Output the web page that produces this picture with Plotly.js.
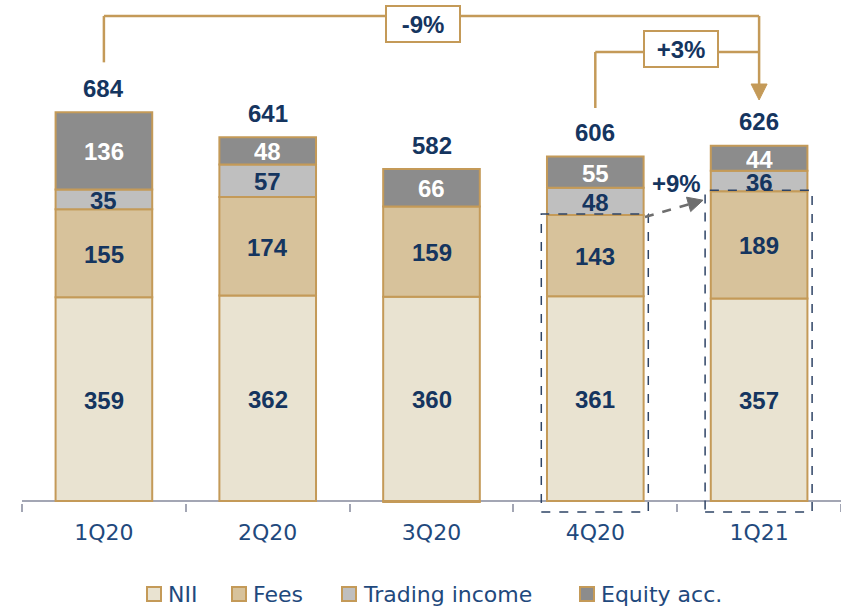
<!DOCTYPE html>
<html><head><meta charset="utf-8">
<script src="https://cdn.plot.ly/plotly-3.0.1.min.js"></script>
<style>html,body{margin:0;padding:0;background:#fff}#chart{width:841px;height:607px}</style>
</head><body><div id="chart"></div>
<script>
// ---- data ----
const quarters = ['1Q20', '2Q20', '3Q20', '4Q20', '1Q21'];
const nii = [359, 362, 360, 361, 357];
const fees = [155, 174, 159, 143, 189];
const trading = [35, 57, -3, 48, 36];
const equityAcc = [136, 48, 66, 55, 44];
const totals = [684, 641, 582, 606, 626];
const seriesNames = ['NII', 'Fees', 'Trading income', 'Equity acc.'];
const changeLabels = ['-9%', '+3%', '+9%'];

// ---- style ----
const colors = ['#E9E3D1', '#D7C29B', '#BFBFBF', '#8C8C8C'];
const gold = '#C49A58';
const navy = '#15355F';
const tickNavy = '#1F497D';
const W = 841, H = 607;
const M = {l: 22, r: 0, t: 0, b: 104};
const Y_MIN = -3.5, Y_MAX = 883;
const plotW = W - M.l - M.r, plotH = H - M.t - M.b;

// helpers: data -> pixel, pixel -> paper (decorations only)
const xPix = i => M.l + (i + 0.5) * plotW / quarters.length;
const yPix = v => M.t + plotH - (v - Y_MIN) * plotH / (Y_MAX - Y_MIN);
const px = x => (x - M.l) / plotW;
const py = y => (M.t + plotH - y) / plotH;

const series = [nii, fees, trading, equityAcc];
const traces = series.map((vals, k) => ({
  type: 'bar', x: quarters, y: vals, name: seriesNames[k],
  marker: {color: colors[k], line: {color: gold, width: 2}},
  hoverinfo: 'skip', showlegend: false
}));

const lblFont = {family: 'Liberation Sans, Arial, sans-serif', size: 24, color: navy};
const annotations = [];
// segment labels
quarters.forEach((q, i) => {
  let base = 0;
  series.forEach((vals, k) => {
    const v = vals[i];
    if (v > 0) {
      annotations.push({x: q, y: base + v / 2, xref: 'x', yref: 'y', text: '<b>' + v + '</b>',
        showarrow: false, yanchor: 'middle', yshift: -1, height: 21,
        font: Object.assign({}, lblFont, {color: k === 3 ? '#FFFFFF' : navy})});
      base += v;
    }
  });
  // total label
  annotations.push({x: q, y: base, xref: 'x', yref: 'y', text: '<b>' + totals[i] + '</b>',
    showarrow: false, yanchor: 'middle', yshift: 24, font: lblFont});
});

// change boxes
const boxStyle = {showarrow: false, bgcolor: '#FFFFFF', bordercolor: gold, borderwidth: 2,
  borderpad: 1, width: 70, height: 32, xref: 'paper', yref: 'paper', font: lblFont,
  xanchor: 'center', yanchor: 'middle'};
annotations.push(Object.assign({}, boxStyle, {x: px(423), y: py(24), text: '<b>' + changeLabels[0] + '</b>'}));
annotations.push(Object.assign({}, boxStyle, {x: px(681), y: py(49.5), text: '<b>' + changeLabels[1] + '</b>'}));
annotations.push({x: px(676), y: py(183), xref: 'paper', yref: 'paper', showarrow: false,
  text: '<b>' + changeLabels[2] + '</b>', font: lblFont, xanchor: 'center', yanchor: 'middle'});

// decorations
const x0 = xPix(0), x3 = xPix(3), x4 = xPix(4);
const line = (a, b, c, d, col, w, dash) => ({type: 'line', xref: 'paper', yref: 'paper',
  x0: px(a), y0: py(b), x1: px(c), y1: py(d), line: {color: col, width: w, dash: dash || 'solid'}, layer: 'above'});
const shapes = [];
// -9% bracket
const topA = 16;
shapes.push(line(x0, yPix(totals[0] + 1) - 50, x0, topA, gold, 2.5));
shapes.push(line(x0, topA, x4, topA, gold, 2.5));
shapes.push(line(x4, topA, x4, 86, gold, 2.5));
shapes.push({type: 'path', xref: 'paper', yref: 'paper', layer: 'above',
  path: `M${px(x4 - 8)},${py(84)} L${px(x4 + 8)},${py(84)} L${px(x4)},${py(100)} Z`,
  fillcolor: gold, line: {color: gold, width: 1}});
// +3% bracket
const topB = 52;
shapes.push(line(x3, 108, x3, topB, gold, 2.5));
shapes.push(line(x3, topB, x4, topB, gold, 2.5));
// dashed rectangles around Fees + NII
[3, 4].forEach(i => {
  const top = yPix(nii[i] + fees[i]) - 1;
  shapes.push({type: 'rect', xref: 'paper', yref: 'paper', layer: 'above',
    x0: px(xPix(i) - 54), x1: px(xPix(i) + 53), y0: py(512), y1: py(top),
    line: {color: '#2E4466', width: 1.5, dash: 'dash'}, fillcolor: 'rgba(0,0,0,0)'});
});
// gray dashed arrow (4Q20 fees -> 1Q21 fees)
const ax0 = 645, ay0 = yPix(nii[3] + fees[3]) + 2, ax1 = 703, ay1 = yPix(nii[4] + fees[4]) + 9;
const ang = Math.atan2(ay1 - ay0, ax1 - ax0);
const hl = 15, hw = 7.5;
const bx = ax1 - hl * Math.cos(ang), by = ay1 - hl * Math.sin(ang);
shapes.push(line(ax0, ay0, bx, by, '#6E6E6E', 2.5, 'dash'));
shapes.push({type: 'path', xref: 'paper', yref: 'paper', layer: 'above',
  path: `M${px(ax1)},${py(ay1)} L${px(bx - hw * Math.sin(ang))},${py(by + hw * Math.cos(ang))} L${px(bx + hw * Math.sin(ang))},${py(by - hw * Math.cos(ang))} Z`,
  fillcolor: '#6E6E6E', line: {color: '#6E6E6E', width: 1}});

// legend (square swatch + label per series)
const legendTextX = [167, 252, 362, 600];
const legendY = 594;
seriesNames.forEach((nm, k) => {
  const tx = legendTextX[k];
  shapes.push({type: 'rect', xref: 'paper', yref: 'paper', layer: 'above',
    x0: px(tx - 20), x1: px(tx - 6), y0: py(legendY + 7), y1: py(legendY - 7),
    fillcolor: colors[k], line: {color: gold, width: 2}});
  annotations.push({x: px(tx - 1), y: py(legendY), xref: 'paper', yref: 'paper', showarrow: false,
    text: nm, xanchor: 'left', yanchor: 'middle',
    font: {family: 'DejaVu Sans, sans-serif', size: 22, color: tickNavy}});
});

const layout = {
  width: W, height: H, margin: Object.assign({autoexpand: false}, M),
  paper_bgcolor: '#FFFFFF', plot_bgcolor: '#FFFFFF',
  barmode: 'relative', bargap: 0.41,
  showlegend: false,
  xaxis: {type: 'category', range: [-0.5, 4.5], showline: false, showgrid: false,
    ticks: 'outside', tickson: 'boundaries', ticklen: 8, tickwidth: 2, tickcolor: '#A3A6B4',
    ticklabelstandoff: 14,
    tickfont: {family: 'DejaVu Sans, sans-serif', size: 22, color: tickNavy}, fixedrange: true},
  yaxis: {range: [Y_MIN, Y_MAX], showgrid: false, showticklabels: false, ticks: '',
    zeroline: true, zerolinecolor: '#A3A6B4', zerolinewidth: 2, fixedrange: true},
  annotations: annotations, shapes: shapes
};
Plotly.newPlot('chart', traces, layout, {displayModeBar: false, staticPlot: true});
</script></body></html>
